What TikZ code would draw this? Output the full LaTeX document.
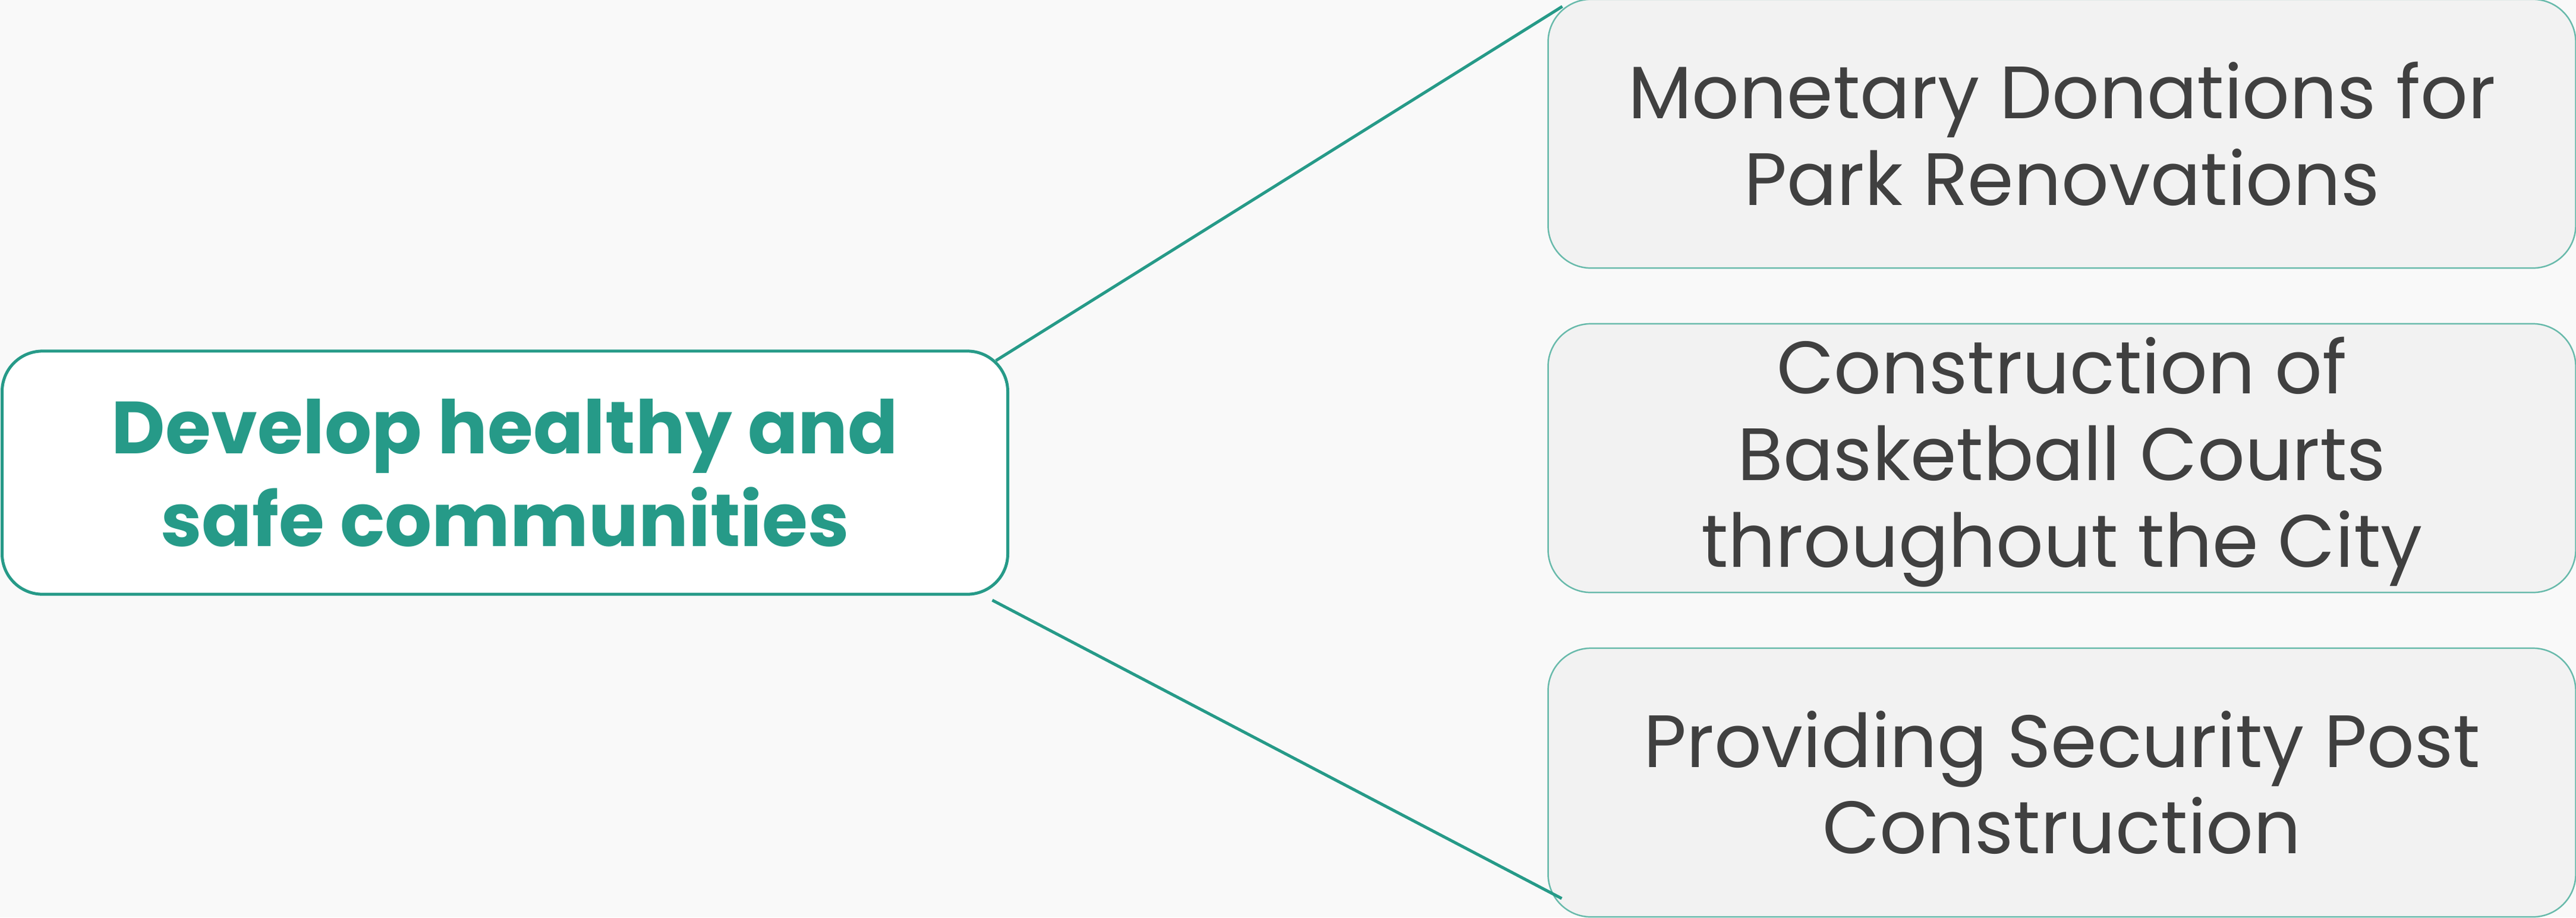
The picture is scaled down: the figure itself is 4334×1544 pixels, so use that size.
\documentclass[tikz,border=0pt]{standalone}
\usepackage{fontspec}
\newfontfamily\mfont{Poppins}
\usetikzlibrary{calc}
\definecolor{bgc}{RGB}{249,249,249}
\definecolor{tealc}{RGB}{38,154,136}
\definecolor{lteal}{RGB}{104,186,171}
\definecolor{boxfill}{RGB}{242,242,242}
\definecolor{txtc}{RGB}{64,64,64}
\tikzset{
  mainbox/.style={draw=tealc, line width=1.42pt, fill=white, rounded corners=0.68cm,
    minimum width=16.91cm, minimum height=4.09cm, inner sep=0pt, outer sep=0pt,
    align=center, text=tealc, font=\mfont\bfseries\fontsize{35.4}{44.4}\selectfont},
  subbox/.style={draw=lteal, line width=0.7pt, fill=boxfill, rounded corners=0.72cm,
    minimum width=17.28cm, minimum height=4.52cm, inner sep=0pt, outer sep=0pt,
    align=center, text=txtc, font=\mfont\fontsize{35.5}{41.5}\selectfont},
  link/.style={draw=tealc, line width=1.42pt}
}
\begin{document}
\begin{tikzpicture}[x=0.01cm,y=-0.01cm]
\fill[bgc] (0,0) rectangle (4334,1544);
\useasboundingbox (0,0) rectangle (4334,1544);
\node[mainbox] (c) at (849.5,795.5) {Develop healthy and\\safe communities};
\node[subbox] (t) at (3469,225) {Monetary Donations for\\Park Renovations};
\node[subbox] (m) at (3469,771) {Construction of\\Basketball Courts\\\raisebox{0pt}[\height][6pt]{throughout the City}};
\node[subbox] (b) at (3469,1317) {Providing Security Post\\Construction};
\draw[link] ($(c.north east)+(-20,16)$) -- ($(t.north west)+(24,12)$);
\draw[link] ($(c.south east)+(-26,10)$) -- ($(b.south west)+(23,-31)$);
\end{tikzpicture}
\end{document}
